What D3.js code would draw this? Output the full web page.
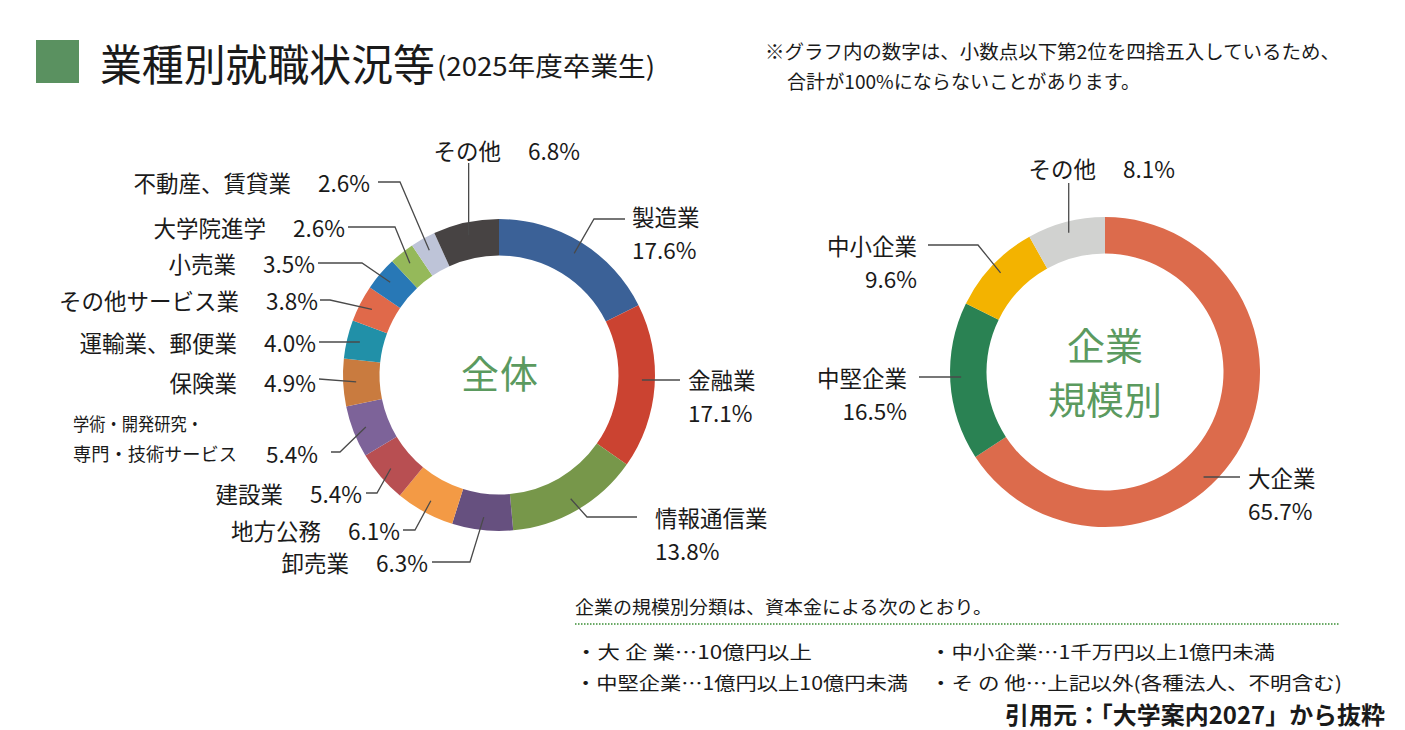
<!DOCTYPE html>
<html><head><meta charset="utf-8">
<script src="https://cdn.jsdelivr.net/npm/d3@7"></script>
<style>
body{margin:0;background:#fff}
svg{display:block}
text{font-family:"Noto Sans CJK JP","Noto Sans",sans-serif;fill:#1a1a1a}
</style>
</head><body>
<svg id="c" width="1405" height="730"></svg>
<script>
// ---- data ----
const industryNames = ["製造業","金融業","情報通信業","卸売業","地方公務","建設業","学術・開発研究・専門・技術サービス","保険業","運輸業、郵便業","その他サービス業","小売業","大学院進学","不動産、賃貸業","その他"];
const industryValues = [17.6,17.1,13.8,6.3,6.1,5.4,5.4,4.9,4.0,3.8,3.5,2.6,2.6,6.8];
const industryColors = ["#3B6197","#CB4331","#77974A","#66507F","#F39A45","#B84F52","#7D6399","#C97B3F","#2190A8","#E0694A","#2878B6","#95B95A","#BEC4D8","#474343"];
const sizeNames = ["大企業","中堅企業","中小企業","その他"];
const sizeValues = [65.7,16.5,9.6,8.1];
const sizeColors = ["#DC6B4C","#2A8253","#F3B300","#D1D2D0"];

// ---- layout (label anchors / leader routes) ----
const leftLayout = [
  {kind:"two", anchor:"start", x:632, y:216, via:[[594,219],[625,219]]},
  {kind:"two", anchor:"start", x:688, y:379, h:380, side:1, via:[[680,380]]},
  {kind:"two", anchor:"start", x:655, y:517, via:[[587,517],[637,517]]},
  {kind:"inline", x:428, y:562, via:[[470,562],[432,562]]},
  {kind:"inline", x:400, y:530, via:[[415,530],[403,530]]},
  {kind:"inline", x:362, y:493, via:[[377,493],[366,493]]},
  {kind:"academic", x:318, y:453, x1:73, y1:423, w1:130, w2:164, via:[[340,452],[331,452]]},
  {kind:"inline", x:316, y:382, via:[[319,379]]},
  {kind:"inline", x:316, y:342, h:342, side:-1, via:[[319,342]]},
  {kind:"inline", x:318, y:300, via:[[330,300],[320,300]]},
  {kind:"inline", x:315, y:263, via:[[362,263],[318,263]]},
  {kind:"inline", x:345, y:227, via:[[395,227],[348,227]]},
  {kind:"inline", x:370, y:182, via:[[400,182],[378,182]]},
  {kind:"inline", x:580, y:150, v:163}
];
const rightLayout = [
  {kind:"two", anchor:"start", x:1248, y:477, h:477, side:1, via:[[1240,477]]},
  {kind:"two", anchor:"end", x:907, y:377, h:377, side:-1, via:[[919,377]]},
  {kind:"two", anchor:"end", x:917, y:245, via:[[978,245],[928,245]]},
  {kind:"inline", x:1175, y:168, v:183}
];

const svg = d3.select("#c");
const FS = 22.5;

// ---- title ----
svg.append("rect").attr("x",36).attr("y",40).attr("width",43).attr("height",43).attr("fill","#5A9160");
svg.append("text").attr("x",100).attr("y",62).attr("dominant-baseline","central")
  .attr("font-size",43).attr("textLength",335).attr("lengthAdjust","spacingAndGlyphs").text("業種別就職状況等");
svg.append("text").attr("x",437).attr("y",64).attr("dominant-baseline","central")
  .attr("font-size",26).attr("textLength",218).attr("lengthAdjust","spacingAndGlyphs").text("(2025年度卒業生)");

svg.append("text").attr("x",765).attr("y",50).attr("dominant-baseline","central")
  .attr("font-size",19).attr("textLength",575).attr("lengthAdjust","spacingAndGlyphs")
  .text("※グラフ内の数字は、小数点以下第2位を四捨五入しているため、");
svg.append("text").attr("x",787).attr("y",80).attr("dominant-baseline","central")
  .attr("font-size",19).attr("textLength",353).attr("lengthAdjust","spacingAndGlyphs")
  .text("合計が100%にならないことがあります。");

// ---- donut helper ----
function donut(opts){
  const {names, values, colors, cx, cy, rOuter, rInner, rLead, layout} = opts;
  const pie = d3.pie().sort(null).value(d=>d)(values);
  const arc = d3.arc().innerRadius(rInner).outerRadius(rOuter);
  const g = svg.append("g").attr("transform",`translate(${cx},${cy})`);
  g.selectAll("path").data(pie).join("path").attr("d",arc).attr("fill",(d,i)=>colors[i]);

  const lines = svg.append("g");
  const labels = svg.append("g");
  pie.forEach((p,i)=>{
    const L = layout[i];
    const mid = (p.startAngle+p.endAngle)/2;
    let start;
    if (L.h !== undefined){
      const dy = L.h - cy;
      start = [cx + L.side*Math.sqrt(rLead*rLead - dy*dy), L.h];
    } else {
      start = [cx + rLead*Math.sin(mid), cy - rLead*Math.cos(mid)];
    }
    let pts = [start];
    if (L.v !== undefined) pts.push([start[0], L.v]);
    if (L.via) pts = pts.concat(L.via);
    lines.append("path").attr("d", d3.line()(pts)).attr("fill","none")
      .attr("stroke","#4a4a4a").attr("stroke-width",1.3);

    const pct = values[i].toFixed(1)+"%";
    if (L.kind==="two"){
      labels.append("text").attr("x",L.x).attr("y",L.y).attr("dominant-baseline","central")
        .attr("text-anchor",L.anchor).attr("font-size",FS).text(names[i]);
      labels.append("text").attr("x",L.x).attr("y",L.y+33).attr("dominant-baseline","central")
        .attr("text-anchor",L.anchor).attr("font-size",FS).text(pct);
    } else if (L.kind==="inline"){
      const t = labels.append("text").attr("x",L.x).attr("y",L.y).attr("dominant-baseline","central")
        .attr("text-anchor","end").attr("font-size",FS);
      t.append("tspan").text(names[i]);
      t.append("tspan").attr("dx",27).text(pct);
    } else if (L.kind==="academic"){
      const parts = ["学術・開発研究・","専門・技術サービス"];
      labels.append("text").attr("x",L.x1).attr("y",L.y1).attr("dominant-baseline","central")
        .attr("font-size",18.5).attr("textLength",L.w1).attr("lengthAdjust","spacingAndGlyphs").text(parts[0]);
      labels.append("text").attr("x",L.x1).attr("y",L.y).attr("dominant-baseline","central")
        .attr("font-size",18.5).attr("textLength",L.w2).attr("lengthAdjust","spacingAndGlyphs").text(parts[1]);
      labels.append("text").attr("x",L.x).attr("y",L.y).attr("dominant-baseline","central")
        .attr("text-anchor","end").attr("font-size",FS).text(pct);
    }
  });
}

donut({names:industryNames, values:industryValues, colors:industryColors,
  cx:499, cy:375, rOuter:156, rInner:119.5, rLead:143, layout:leftLayout});
donut({names:sizeNames, values:sizeValues, colors:sizeColors,
  cx:1105, cy:372, rOuter:155, rInner:118.5, rLead:144, layout:rightLayout});

// ---- centre texts ----
const green = "#5B9A5F";
svg.append("text").attr("x",500).attr("y",371).attr("text-anchor","middle").attr("dominant-baseline","central")
  .attr("font-size",38).style("fill",green).attr("letter-spacing",1).text("全体");
svg.append("text").attr("x",1105).attr("y",343).attr("text-anchor","middle").attr("dominant-baseline","central")
  .attr("font-size",38).style("fill",green).text("企業");
svg.append("text").attr("x",1105).attr("y",397).attr("text-anchor","middle").attr("dominant-baseline","central")
  .attr("font-size",38).style("fill",green).text("規模別");

// ---- notes ----
const FN = 18.5;
svg.append("text").attr("x",575).attr("y",606).attr("dominant-baseline","central").attr("font-size",FN)
  .attr("textLength",417).attr("lengthAdjust","spacingAndGlyphs").text("企業の規模別分類は、資本金による次のとおり。");
svg.append("line").attr("x1",575).attr("x2",1340).attr("y1",624).attr("y2",624)
  .attr("stroke","#6AAA66").attr("stroke-width",2).attr("stroke-dasharray","1.5,1.5");
const notes = [
  {t:"・大 企 業…10億円以上", x:575, y:651, w:237},
  {t:"・中小企業…1千万円以上1億円未満", x:930, y:651, w:345},
  {t:"・中堅企業…1億円以上10億円未満", x:575, y:682, w:333},
  {t:"・そ の 他…上記以外(各種法人、不明含む)", x:930, y:682, w:412}
];
notes.forEach(n=>{
  svg.append("text").attr("x",n.x).attr("y",n.y).attr("dominant-baseline","central").attr("font-size",FN)
    .attr("textLength",n.w).attr("lengthAdjust","spacingAndGlyphs").text(n.t);
});
svg.append("text").attr("x",1005).attr("y",713).attr("dominant-baseline","central").attr("font-size",24)
  .attr("font-weight","bold").attr("textLength",380).attr("lengthAdjust","spacingAndGlyphs")
  .text("引用元：「大学案内2027」から抜粋");
</script>
</body></html>
